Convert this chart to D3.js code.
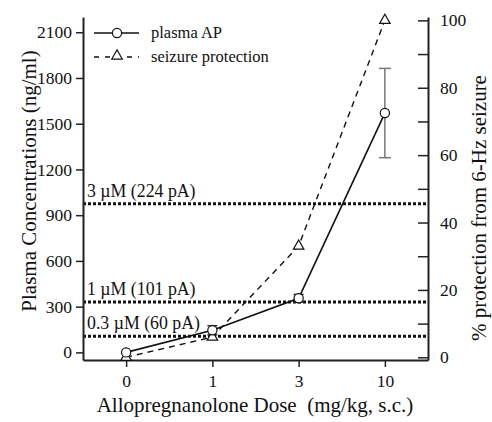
<!DOCTYPE html>
<html>
<head>
<meta charset="utf-8">
<script src="https://cdn.jsdelivr.net/npm/d3@7"></script>
<style>
  body { margin: 0; background: #fff; }
  svg text { font-family: "Liberation Serif", "Times New Roman", Times, serif; fill: #111; }
</style>
</head>
<body>
<div id="chart"></div>
<script>
const width = 492;
const height = 422;

// data
const doses = ["0", "1", "3", "10"];
const plasmaAP = [0, 145, 355, 1570];
const plasmaErr = [0, 30, 25, 293];
const protection = [0, 6, 33, 100];
const refLines = [
  { value: 975, label: "3 \u00b5M (224 pA)" },
  { value: 330, label: "1 \u00b5M (101 pA)" },
  { value: 105, label: "0.3 \u00b5M (60 pA)" }
];
const leftTicks = [0, 300, 600, 900, 1200, 1500, 1800, 2100];
const rightTicks = [0, 20, 40, 60, 80, 100];

const mLeft = 83, mRight = 428, mTop = 17, mBottom = 360;

const svg = d3.select("#chart").append("svg")
  .attr("width", width)
  .attr("height", height);

const x = d3.scalePoint().domain(doses).range([mLeft, mRight]).padding(0.5);
const y = d3.scaleLinear().domain([-50, 2200]).range([mBottom, mTop]);
const y2 = d3.scaleLinear().domain([-0.8, 101]).range([mBottom, mTop]);

// reference lines (dotted)
refLines.forEach(r => {
  svg.append("line")
    .attr("x1", mLeft).attr("x2", mRight)
    .attr("y1", y(r.value)).attr("y2", y(r.value))
    .attr("stroke", "#111")
    .attr("stroke-width", 3)
    .attr("stroke-dasharray", "3,2");
  svg.append("text")
    .attr("x", mLeft + 4)
    .attr("y", y(r.value) - 7)
    .attr("font-size", 17.8)
    .text(r.label);
});

// axes
const gx = svg.append("g")
  .attr("transform", `translate(0,${mBottom})`)
  .call(d3.axisBottom(x).tickSize(7).tickPadding(8).tickSizeOuter(0));
const gy = svg.append("g")
  .attr("transform", `translate(${mLeft},0)`)
  .call(d3.axisLeft(y).tickValues(leftTicks).tickFormat(d3.format("d"))
    .tickSize(7).tickPadding(4).tickSizeOuter(0));
const gy2 = svg.append("g")
  .attr("transform", `translate(${mRight},0)`)
  .call(d3.axisRight(y2).tickValues(d3.range(0, 101, 10)).tickSize(-10).tickPadding(12)
    .tickFormat(d => rightTicks.includes(d) ? d : "").tickSizeOuter(0));

[gx, gy, gy2].forEach(g => {
  g.attr("font-family", null);
  g.selectAll("text").attr("font-size", 17.5).attr("fill", "#111");
  g.selectAll("line").attr("stroke", "#222").attr("stroke-width", 1.5);
  g.select(".domain").attr("stroke", "#222").attr("stroke-width", 2);
});

// seizure protection (dashed, right axis)
const line2 = d3.line().x((d, i) => x(doses[i])).y(d => y2(d));
svg.append("path")
  .attr("d", line2(protection))
  .attr("fill", "none")
  .attr("stroke", "#111")
  .attr("stroke-width", 1.4)
  .attr("stroke-dasharray", "6,5");

// plasma AP (solid, left axis)
const line1 = d3.line().x((d, i) => x(doses[i])).y(d => y(d));
svg.append("path")
  .attr("d", line1(plasmaAP))
  .attr("fill", "none")
  .attr("stroke", "#111")
  .attr("stroke-width", 1.6);

// error bars
plasmaAP.forEach((v, i) => {
  const e = plasmaErr[i];
  if (!e) return;
  const cx = x(doses[i]);
  const col = i === 3 ? "#777" : "#333";
  const cap = i === 3 ? 6 : 5;
  const g = svg.append("g").attr("stroke", col).attr("stroke-width", 1.5);
  g.append("line").attr("x1", cx).attr("x2", cx).attr("y1", y(v + e)).attr("y2", y(v - e));
  g.append("line").attr("x1", cx - cap).attr("x2", cx + cap).attr("y1", y(v + e)).attr("y2", y(v + e));
  g.append("line").attr("x1", cx - cap).attr("x2", cx + cap).attr("y1", y(v - e)).attr("y2", y(v - e));
});

const tri = d3.symbol().type(d3.symbolTriangle).size(48);
protection.forEach((v, i) => {
  svg.append("path")
    .attr("d", tri())
    .attr("transform", `translate(${x(doses[i])},${y2(v)})`)
    .attr("fill", "#fff")
    .attr("stroke", "#111")
    .attr("stroke-width", 1.2);
});
plasmaAP.forEach((v, i) => {
  svg.append("circle")
    .attr("cx", x(doses[i])).attr("cy", y(v)).attr("r", 4.6)
    .attr("fill", "#fff")
    .attr("stroke", "#111")
    .attr("stroke-width", 1.2);
});

// legend
const lg = svg.append("g");
lg.append("line").attr("x1", 94).attr("x2", 139).attr("y1", 33).attr("y2", 33)
  .attr("stroke", "#111").attr("stroke-width", 1.6);
lg.append("circle").attr("cx", 117).attr("cy", 33).attr("r", 4.6)
  .attr("fill", "#fff").attr("stroke", "#111").attr("stroke-width", 1.2);
lg.append("text").attr("x", 151).attr("y", 38).attr("font-size", 16.5).text("plasma AP");
lg.append("line").attr("x1", 94).attr("x2", 139).attr("y1", 57).attr("y2", 57)
  .attr("stroke", "#111").attr("stroke-width", 1.4).attr("stroke-dasharray", "5,6");
lg.append("path").attr("d", tri()).attr("transform", "translate(117,56)")
  .attr("fill", "#fff").attr("stroke", "#111").attr("stroke-width", 1.2);
lg.append("text").attr("x", 151).attr("y", 62).attr("font-size", 16.5).text("seizure protection");

// axis titles
svg.append("text")
  .attr("x", 255).attr("y", 412)
  .attr("text-anchor", "middle")
  .attr("font-size", 21)
  .attr("xml:space", "preserve")
  .text("Allopregnanolone Dose  (mg/kg, s.c.)");
svg.append("text")
  .attr("transform", "translate(36,181) rotate(-90)")
  .attr("text-anchor", "middle")
  .attr("font-size", 21)
  .text("Plasma Concentrations (ng/ml)");
svg.append("text")
  .attr("transform", "translate(486,208) rotate(-90)")
  .attr("text-anchor", "middle")
  .attr("font-size", 21)
  .text("% protection from 6-Hz seizure");
</script>
</body>
</html>
